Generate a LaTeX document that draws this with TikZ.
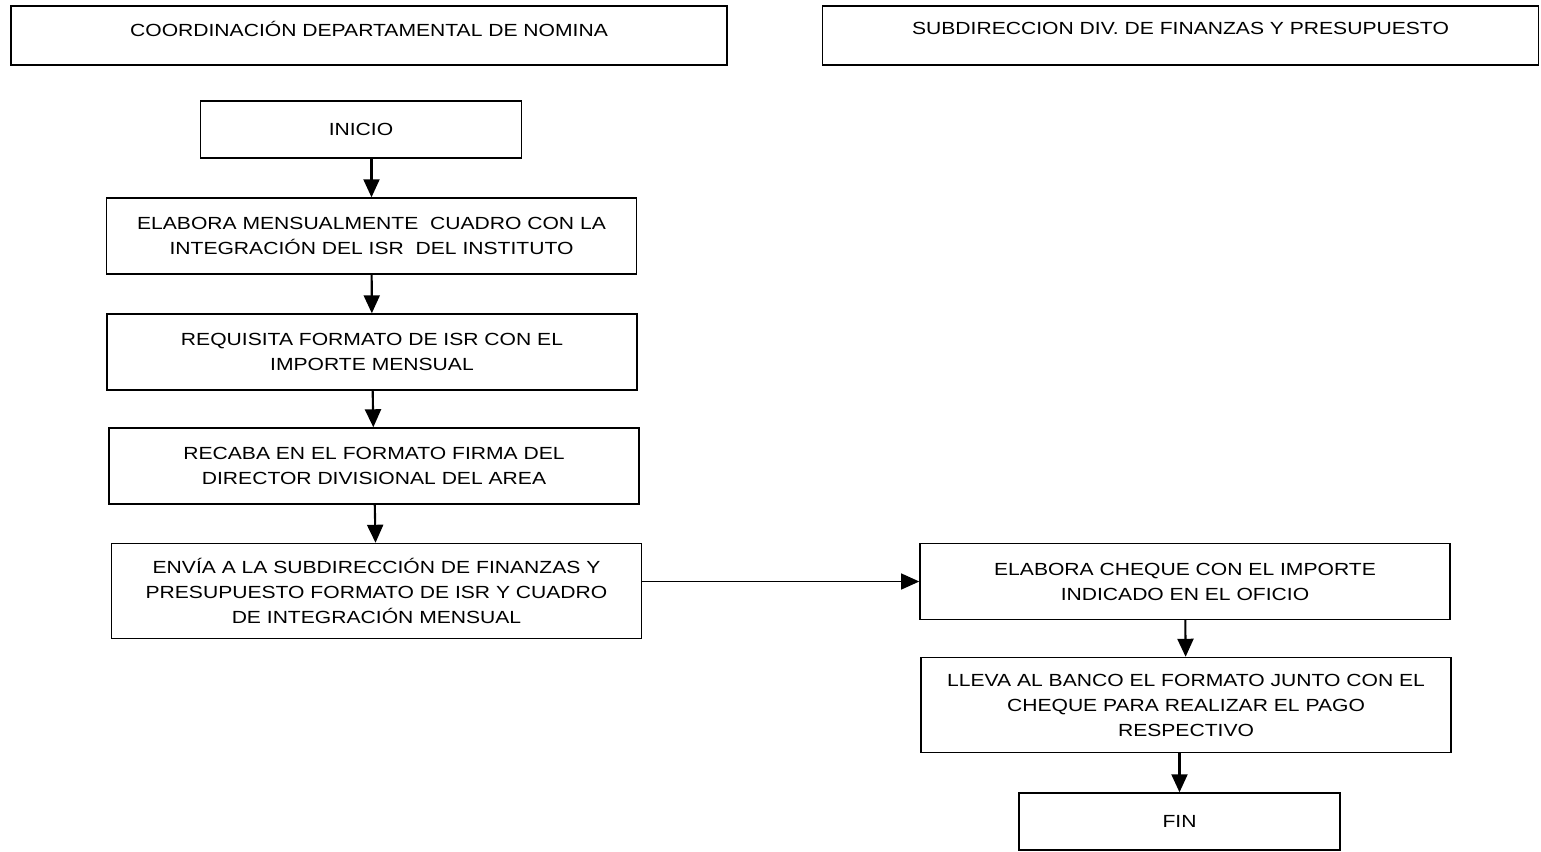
\documentclass[tikz,border=0pt]{standalone}
\usepackage{fontspec}
\setmainfont[FakeStretch=1.2]{Liberation Sans}
\usepackage{tikz}
\usetikzlibrary{arrows.meta}

\begin{document}
\begin{tikzpicture}[x=0.025cm, y=-0.025cm,
  font=\fontsize{12.5}{17.8}\selectfont,
  lane/.style={rectangle, draw, line width=1pt, minimum width=17.9cm, minimum height=1.475cm, align=center, inner sep=2pt, text depth=0.35cm},
  paso/.style={rectangle, draw, line width=1pt, minimum width=13.25cm, minimum height=1.9cm, align=center, inner sep=2pt},
  extremo/.style={rectangle, draw, line width=1pt, minimum width=8.03cm, minimum height=1.425cm, align=center, inner sep=2pt},
  flecha/.style={-{Triangle[length=0.45cm, width=0.4cm]}, line width=1.5pt}
]
  \useasboundingbox (0,0) rectangle (1541,851);

  \node[lane] (nomina) at (369,35.5) {COORDINACIÓN DEPARTAMENTAL DE NOMINA};
  \node[lane] (finanzas) at (1180.5,35.5) {SUBDIRECCION DIV. DE FINANZAS Y PRESUPUESTO};

  \node[extremo] (inicio) at (361,129.5) {INICIO};
  \node[paso] (cuadro) at (371.5,236) {ELABORA MENSUALMENTE\ \ CUADRO CON LA\\INTEGRACIÓN DEL ISR\ \ DEL INSTITUTO};
  \node[paso] (requisita) at (372,352) {REQUISITA FORMATO DE ISR CON EL\\IMPORTE MENSUAL};
  \node[paso] (recaba) at (374,466) {RECABA EN EL FORMATO FIRMA DEL\\DIRECTOR DIVISIONAL DEL AREA};
  \node[paso, minimum height=2.375cm] (envia) at (376.5,591) {ENVÍA A LA SUBDIRECCIÓN DE FINANZAS Y\\PRESUPUESTO FORMATO DE ISR Y CUADRO\\DE INTEGRACIÓN MENSUAL};

  \node[paso] (cheque) at (1185,581.5) {ELABORA CHEQUE CON EL IMPORTE\\INDICADO EN EL OFICIO};
  \node[paso, minimum height=2.375cm] (banco) at (1186,705) {LLEVA AL BANCO EL FORMATO JUNTO CON EL\\CHEQUE PARA REALIZAR EL PAGO\\RESPECTIVO};
  \node[extremo] (fin) at (1179.5,821.5) {FIN};

  \draw[flecha] (inicio.south -| cuadro.north) -- (cuadro.north);
  \draw[flecha] (cuadro) -- (requisita);
  \draw[flecha] (requisita) -- (recaba);
  \draw[flecha] (recaba) -- (envia);
  \draw[flecha, line width=0.8pt] (envia.east |- cheque.west) -- (cheque.west);
  \draw[flecha] (cheque) -- (banco);
  \draw[flecha] (banco.south -| fin.north) -- (fin.north);
\end{tikzpicture}
\end{document}
